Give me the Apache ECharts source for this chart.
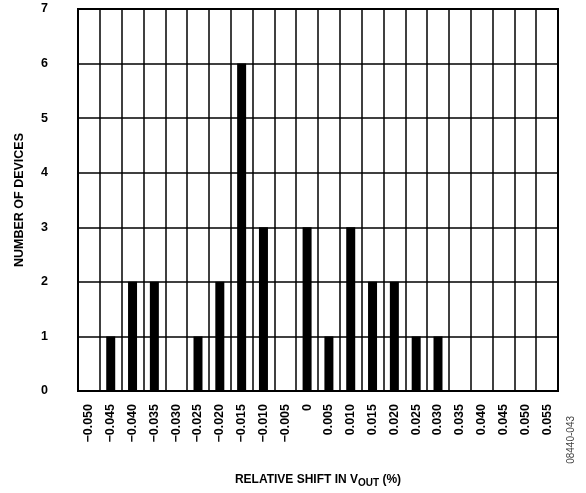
<!DOCTYPE html>
<html>
<head>
<meta charset="utf-8">
<script src="https://cdn.jsdelivr.net/npm/echarts@6/dist/echarts.min.js"></script>
<style>
  html, body { margin: 0; padding: 0; background: #fff; }
  #chart { width: 586px; height: 493px; }
</style>
</head>
<body>
<div id="chart"></div>
<script>
// relative shift categories (%)
const categories = [
  '−0.050', '−0.045', '−0.040', '−0.035', '−0.030', '−0.025', '−0.020', '−0.015',
  '−0.010', '−0.005', '0', '0.005', '0.010', '0.015', '0.020', '0.025',
  '0.030', '0.035', '0.040', '0.045', '0.050', '0.055'
]
// number of devices per bin
const devices = [0, 1, 2, 2, 0, 1, 2, 6, 3, 0, 3, 1, 3, 2, 2, 1, 1, 0, 0, 0, 0, 0]
const yTicks = [0, 1, 2, 3, 4, 5, 6, 7]

const font = 'Liberation Sans, Arial, sans-serif'

const chart = echarts.init(document.getElementById('chart'))

chart.setOption({
  animation: false,
  grid: {
    left: 78,
    right: 28,
    top: 9,
    bottom: 101,
    show: true,
    borderColor: '#000',
    borderWidth: 2
  },
  xAxis: {
    type: 'category',
    data: categories,
    boundaryGap: true,
    axisLine: { show: false },
    axisTick: { show: false },
    splitLine: { show: true, lineStyle: { color: '#000', width: 1.5 } },
    axisLabel: {
      rotate: 90,
      interval: 0,
      margin: 13,
      color: '#000',
      fontFamily: font,
      fontWeight: 'bold',
      fontSize: 12.5
    },
    name: '{a|RELATIVE SHIFT IN V}{s|OUT}{a| (%)}',
    nameLocation: 'middle',
    nameGap: 80,
    nameTextStyle: {
      rich: {
        a: { fontFamily: font, fontWeight: 'bold', fontSize: 12, color: '#000' },
        s: { fontFamily: font, fontWeight: 'bold', fontSize: 10, color: '#000', padding: [7, 0, 0, 0] }
      }
    }
  },
  yAxis: {
    type: 'value',
    min: yTicks[0],
    max: yTicks[yTicks.length - 1],
    interval: 1,
    axisLine: { show: false },
    axisTick: { show: false },
    splitLine: { show: true, lineStyle: { color: '#000', width: 1.5 } },
    axisLabel: {
      margin: 30,
      color: '#000',
      fontFamily: font,
      fontWeight: 'bold',
      fontSize: 12.5
    },
    name: 'NUMBER OF DEVICES',
    nameLocation: 'middle',
    nameRotate: 90,
    nameGap: 52,
    nameTextStyle: { fontFamily: font, fontWeight: 'bold', fontSize: 12.5, color: '#000' }
  },
  series: [
    {
      type: 'bar',
      data: devices,
      barWidth: 9,
      itemStyle: { color: '#000' }
    }
  ],
  graphic: [
    {
      type: 'text',
      left: 566,
      top: 416,
      rotation: Math.PI / 2,
      style: {
        text: '08440-043',
        font: '10px ' + font,
        fill: '#444'
      }
    }
  ]
})
</script>
</body>
</html>
